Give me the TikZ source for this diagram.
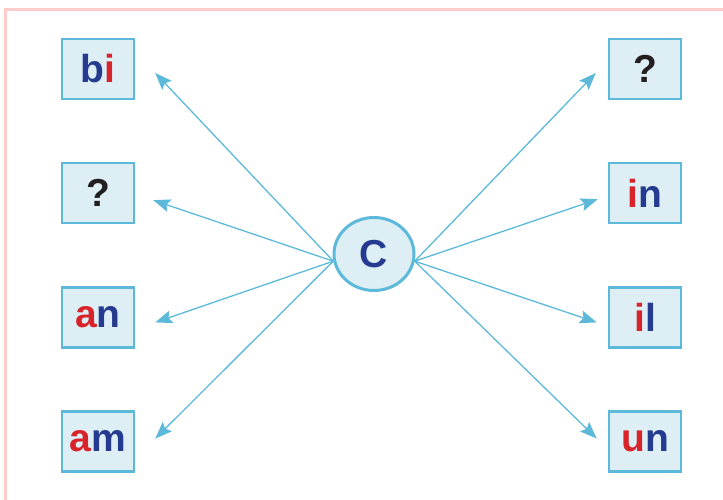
\documentclass[tikz,border=0pt]{standalone}
\usepackage{xcolor}
\usepackage{fontspec}
\setmainfont{Liberation Sans}
\usetikzlibrary{shapes.geometric, arrows.meta, positioning}
\definecolor{boxblue}{HTML}{5DB9DA}
\definecolor{boxfill}{HTML}{DDEEF5}
\definecolor{inkblue}{HTML}{243B8F}
\definecolor{inkred}{HTML}{D8232B}
\definecolor{inkdark}{HTML}{231F20}
\definecolor{framepink}{HTML}{FFCCCC}
\newcommand{\redpart}[1]{\textcolor{inkred}{#1}}
\newcommand{\bluepart}[1]{\textcolor{inkblue}{#1}}

\begin{document}
\begin{tikzpicture}[
  x=1pt, y=1pt,
  letterbox/.style={rectangle, draw=boxblue, fill=boxfill, line width=2.5pt, minimum width=72pt, minimum height=60pt, inner sep=0pt, font=\fontsize{39}{42}\selectfont\bfseries, text centered},
  hub/.style={ellipse, draw=boxblue, fill=boxfill, line width=3pt, minimum width=80pt, minimum height=73pt, inner sep=0pt, font=\fontsize{39}{42}\selectfont\bfseries, text=inkblue},
  arr/.style={-{Stealth[length=17pt, width=13pt, inset=3pt]}, line width=1.3pt, color=boxblue},
  node distance=61.7pt,
]
\clip (0,0) rectangle (723,499);
\draw[framepink, line width=2.6pt] (5.5,489.5) rectangle (760,-30);

% left column
\node[letterbox] (bi) at (98,430) {\bluepart{b}\redpart{i}};
\node[letterbox, below=of bi] (qleft) {\textcolor{inkdark}{?}};
\node[letterbox, below=of qleft] (an) {\redpart{a}\bluepart{n}};
\node[letterbox, below=of an] (am) {\redpart{a}\bluepart{m}};

% right column
\node[letterbox] (qright) at (645,430) {\textcolor{inkdark}{?}};
\node[letterbox, below=of qright] (in) {\redpart{i}\bluepart{n}};
\node[letterbox, below=of in] (il) {\redpart{i}\bluepart{l}};
\node[letterbox, below=of il] (un) {\redpart{u}\bluepart{n}};

% centre
\node[hub] (c) at (374,245) {C};

% arrow tips
\coordinate (tbi) at ([xshift=20pt, yshift=-4pt]bi.east);
\coordinate (tqleft) at ([xshift=18pt, yshift=-7pt]qleft.east);
\coordinate (tan) at ([xshift=20pt, yshift=-5pt]an.east);
\coordinate (tam) at ([xshift=20pt, yshift=3pt]am.east);
\coordinate (tqright) at ([xshift=-12pt, yshift=-4pt]qright.west);
\coordinate (tin) at ([xshift=-10pt, yshift=-6pt]in.west);
\coordinate (til) at ([xshift=-11pt, yshift=-5pt]il.west);
\coordinate (tun) at ([xshift=-11pt, yshift=3pt]un.west);

\draw[arr] (c.190) -- (tbi);
\draw[arr] (c.190) -- (tqleft);
\draw[arr] (c.190) -- (tan);
\draw[arr] (c.190) -- (tam);
\draw[arr] (c.-10) -- (tqright);
\draw[arr] (c.-10) -- (tin);
\draw[arr] (c.-10) -- (til);
\draw[arr] (c.-10) -- (tun);
\end{tikzpicture}
\end{document}
